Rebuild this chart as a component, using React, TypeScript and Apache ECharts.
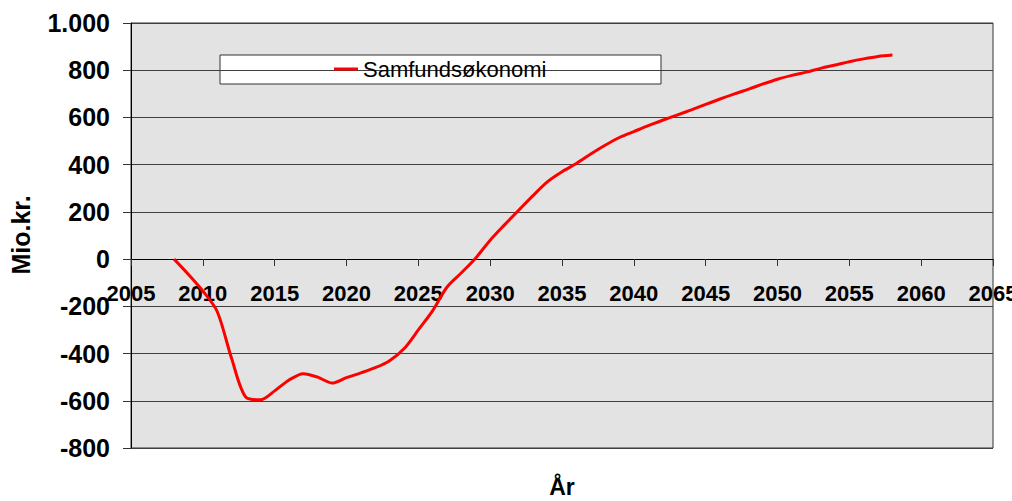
import React, { useEffect, useRef } from "react";
import * as echarts from "echarts";

const years = [
  2008, 2009, 2010, 2011, 2012, 2013, 2014, 2015, 2016, 2017,
  2018, 2019, 2020, 2021, 2022, 2023, 2024, 2025, 2026, 2027,
  2028, 2029, 2030, 2031, 2032, 2033, 2034, 2035, 2036, 2037,
  2038, 2039, 2040, 2041, 2042, 2043, 2044, 2045, 2046, 2047,
  2048, 2049, 2050, 2051, 2052, 2053, 2054, 2055, 2056, 2057, 2058,
];
const samfundsokonomi = [
  0, -65, -135, -222, -420, -585, -596, -558, -512, -485,
  -500, -525, -502, -482, -460, -430, -380, -300, -218, -118,
  -58, 5, 80, 145, 208, 270, 328, 370, 405, 445,
  482, 515, 540, 565, 588, 610, 632, 655, 678, 700,
  720, 742, 762, 778, 792, 808, 822, 836, 848, 858, 864,
];
const seriesName = "Samfundsøkonomi";
const xTitle = "År";
const yTitle = "Mio.kr.";

const FONT = "'Liberation Sans', Arial, sans-serif";

export default function App() {
  const ref = useRef<HTMLDivElement>(null);
  useEffect(() => {
    if (!ref.current) return;
    const chart = echarts.init(ref.current, undefined, { renderer: "svg" });
    chart.setOption({
      animation: false,
      backgroundColor: "#ffffff",
      textStyle: { fontFamily: FONT },
      grid: {
        left: 131,
        right: 19,
        top: 23,
        bottom: 53,
        show: true,
        outerBoundsMode: "none",
        backgroundColor: "#e3e3e3",
        borderColor: "#333333",
        borderWidth: 1,
      },
      legend: {
        show: true,
        left: 334,
        top: 58,
        padding: 0,
        icon: "rect",
        itemWidth: 24,
        itemHeight: 3,
        itemGap: 5,
        textStyle: { fontSize: 22, color: "#000", fontFamily: FONT, padding: [0, 0, 0, 0] },
        data: [{ name: seriesName, itemStyle: { color: "#ff0000" } }],
      },
      graphic: [
        {
          type: "rect",
          z: 0,
          zlevel: 0,
          shape: { x: 220, y: 55, width: 441, height: 29 },
          style: { fill: "#ffffff", stroke: "#333333", lineWidth: 1 },
        },
        {
          type: "text",
          x: 562,
          y: 487,
          style: {
            text: xTitle,
            font: `bold 23px ${FONT}`,
            fill: "#000",
            align: "center",
            verticalAlign: "middle",
          },
        },
        {
          type: "text",
          x: 21,
          y: 235,
          rotation: Math.PI / 2,
          style: {
            text: yTitle,
            font: `bold 25px ${FONT}`,
            fill: "#000",
            align: "center",
            verticalAlign: "middle",
          },
        },
      ],
      xAxis: {
        type: "value",
        min: 2005,
        max: 2065,
        interval: 5,
        offset: -189,
        axisLine: { show: true, onZero: false, lineStyle: { color: "#000", width: 1 } },
        axisTick: { show: true, inside: false, length: 7, lineStyle: { color: "#333" } },
        axisLabel: {
          show: true,
          margin: 23,
          fontSize: 22,
          fontWeight: "bold",
          color: "#000",
          fontFamily: FONT,
          showMinLabel: true,
          showMaxLabel: true,
          hideOverlap: false,
          alignMinLabel: "center",
          alignMaxLabel: "center",
          formatter: (v: number) => String(v),
        },
        splitLine: { show: false },
      },
      yAxis: {
        type: "value",
        min: -800,
        max: 1000,
        interval: 200,
        axisLine: { show: true, onZero: false, lineStyle: { color: "#000", width: 1 } },
        axisTick: { show: true, inside: false, length: 8, lineStyle: { color: "#333" } },
        axisLabel: {
          margin: 21,
          fontSize: 25,
          fontWeight: "bold",
          color: "#000",
          fontFamily: FONT,
          formatter: (v: number) => (v === 1000 ? "1.000" : String(v)),
        },
        splitLine: { show: true, lineStyle: { color: "#404040", width: 1 } },
      },
      series: [
        {
          name: seriesName,
          type: "line",
          data: years.map((y, i) => [y, samfundsokonomi[i]]),
          smooth: 0.3,
          showSymbol: false,
          symbol: "none",
          lineStyle: { color: "#ff0000", width: 3 },
          itemStyle: { color: "#ff0000" },
          z: 5,
        },
      ],
    });
    return () => chart.dispose();
  }, []);
  return (
    <div
      ref={ref}
      style={{ position: "fixed", left: 0, top: 0, width: 1012, height: 501 }}
    />
  );
}
